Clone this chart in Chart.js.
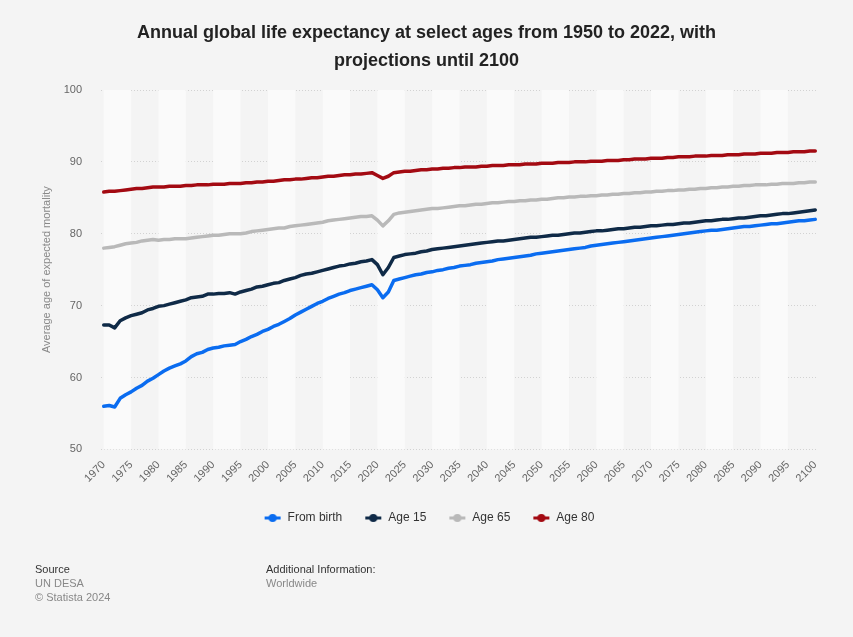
<!DOCTYPE html>
<html>
<head>
<meta charset="utf-8">
<script src="https://cdn.jsdelivr.net/npm/chart.js@4.4.1/dist/chart.umd.min.js"></script>
<style>
  html, body { margin: 0; padding: 0; background: #f4f4f4; }
  #wrap { position: relative; width: 853px; height: 637px; font-family: "Liberation Sans", Arial, sans-serif; }
  #chart { position: absolute; left: 0; top: 0; }
  .title { position: absolute; left: 0; width: 853px; text-align: center; font-weight: bold; font-size: 18px; color: #222; }
  .foot { position: absolute; font-size: 11px; line-height: 14px; }
  .dark { color: #333; }
  .grey { color: #888; }
</style>
</head>
<body>
<div id="wrap">
  <canvas id="chart" width="853" height="637"></canvas>
  <div class="title" style="top:22px">Annual global life expectancy at select ages from 1950 to 2022, with</div>
  <div class="title" style="top:50px">projections until 2100</div>
  <div class="foot" style="left:35px; top:562px">
    <div class="dark">Source</div>
    <div class="grey">UN DESA</div>
    <div class="grey">© Statista 2024</div>
  </div>
  <div class="foot" style="left:266px; top:562px">
    <div class="dark">Additional Information:</div>
    <div class="grey">Worldwide</div>
  </div>
</div>
<script>
var years = [
  '1970','1971','1972','1973','1974','1975','1976','1977','1978','1979',
  '1980','1981','1982','1983','1984','1985','1986','1987','1988','1989',
  '1990','1991','1992','1993','1994','1995','1996','1997','1998','1999',
  '2000','2001','2002','2003','2004','2005','2006','2007','2008','2009',
  '2010','2011','2012','2013','2014','2015','2016','2017','2018','2019',
  '2020','2021','2022','2023','2024','2025','2026','2027','2028','2029',
  '2030','2031','2032','2033','2034','2035','2036','2037','2038','2039',
  '2040','2041','2042','2043','2044','2045','2046','2047','2048','2049',
  '2050','2051','2052','2053','2054','2055','2056','2057','2058','2059',
  '2060','2061','2062','2063','2064','2065','2066','2067','2068','2069',
  '2070','2071','2072','2073','2074','2075','2076','2077','2078','2079',
  '2080','2081','2082','2083','2084','2085','2086','2087','2088','2089',
  '2090','2091','2092','2093','2094','2095','2096','2097','2098','2099',
  '2100'
];

var fromBirth = [
  56.0, 56.1, 55.9, 57.1, 57.6, 58.0, 58.5, 58.9, 59.5, 59.9,
  60.4, 60.9, 61.3, 61.6, 61.9, 62.3, 62.9, 63.3, 63.5, 63.9,
  64.1, 64.2, 64.4, 64.5, 64.6, 65.0, 65.3, 65.7, 66.0, 66.4,
  66.7, 67.1, 67.4, 67.8, 68.2, 68.7, 69.1, 69.5, 69.9, 70.3,
  70.6, 71.0, 71.3, 71.6, 71.8, 72.1, 72.3, 72.5, 72.7, 72.9,
  72.2, 71.1, 71.9, 73.5, 73.7, 73.9, 74.1, 74.3, 74.4, 74.6,
  74.7, 74.9, 75.0, 75.2, 75.3, 75.5, 75.6, 75.7, 75.9, 76.0,
  76.1, 76.2, 76.4, 76.5, 76.6, 76.7, 76.8, 76.9, 77.0, 77.2,
  77.3, 77.4, 77.5, 77.6, 77.7, 77.8, 77.9, 78.0, 78.1, 78.3,
  78.4, 78.5, 78.6, 78.7, 78.8, 78.9, 79.0, 79.1, 79.2, 79.3,
  79.4, 79.5, 79.6, 79.7, 79.8, 79.9, 80.0, 80.1, 80.2, 80.3,
  80.4, 80.5, 80.5, 80.6, 80.7, 80.8, 80.9, 81.0, 81.0, 81.1,
  81.2, 81.3, 81.4, 81.4, 81.5, 81.6, 81.7, 81.8, 81.8, 81.9,
  82.0
];

var age15 = [
  67.3, 67.3, 66.9, 67.9, 68.3, 68.6, 68.8, 69.0, 69.4, 69.6,
  69.9, 70.0, 70.2, 70.4, 70.6, 70.8, 71.1, 71.2, 71.3, 71.6,
  71.6, 71.7, 71.7, 71.8, 71.6, 71.9, 72.1, 72.3, 72.6, 72.7,
  72.9, 73.1, 73.2, 73.5, 73.7, 73.9, 74.2, 74.4, 74.5, 74.7,
  74.9, 75.1, 75.3, 75.5, 75.6, 75.8, 75.9, 76.1, 76.2, 76.4,
  75.7, 74.3, 75.3, 76.7, 76.9, 77.1, 77.2, 77.3, 77.5, 77.6,
  77.8, 77.9, 78.0, 78.1, 78.2, 78.3, 78.4, 78.5, 78.6, 78.7,
  78.8, 78.9, 79.0, 79.0, 79.1, 79.2, 79.3, 79.4, 79.5, 79.5,
  79.6, 79.7, 79.8, 79.8, 79.9, 80.0, 80.1, 80.1, 80.2, 80.3,
  80.4, 80.4, 80.5, 80.6, 80.7, 80.7, 80.8, 80.9, 80.9, 81.0,
  81.1, 81.1, 81.2, 81.3, 81.3, 81.4, 81.5, 81.5, 81.6, 81.7,
  81.8, 81.8, 81.9, 82.0, 82.0, 82.1, 82.2, 82.2, 82.3, 82.4,
  82.5, 82.5, 82.6, 82.7, 82.8, 82.8, 82.9, 83.0, 83.1, 83.2,
  83.3
];

var age65 = [
  78.0, 78.1, 78.2, 78.4, 78.6, 78.7, 78.8, 79.0, 79.1, 79.2,
  79.1, 79.2, 79.2, 79.3, 79.3, 79.3, 79.4, 79.5, 79.6, 79.7,
  79.8, 79.8, 79.9, 80.0, 80.0, 80.0, 80.1, 80.3, 80.4, 80.5,
  80.6, 80.7, 80.8, 80.8, 81.0, 81.1, 81.2, 81.3, 81.4, 81.5,
  81.6, 81.8, 81.9, 82.0, 82.1, 82.2, 82.3, 82.4, 82.4, 82.5,
  81.9, 81.1, 81.8, 82.7, 82.9, 83.0, 83.1, 83.2, 83.3, 83.4,
  83.5, 83.5, 83.6, 83.7, 83.8, 83.9, 83.9, 84.0, 84.1, 84.1,
  84.2, 84.3, 84.3, 84.4, 84.5, 84.5, 84.6, 84.6, 84.7, 84.7,
  84.8, 84.8, 84.9, 85.0, 85.0, 85.1, 85.1, 85.2, 85.2, 85.3,
  85.3, 85.4, 85.4, 85.5, 85.5, 85.6, 85.6, 85.7, 85.7, 85.8,
  85.8, 85.9, 85.9, 86.0, 86.0, 86.1, 86.1, 86.2, 86.2, 86.3,
  86.3, 86.4, 86.4, 86.5, 86.5, 86.6, 86.6, 86.7, 86.7, 86.8,
  86.8, 86.8, 86.9, 86.9, 87.0, 87.0, 87.0, 87.1, 87.1, 87.2,
  87.2
];

var age80 = [
  85.8, 85.9, 85.9, 86.0, 86.1, 86.2, 86.3, 86.3, 86.4, 86.5,
  86.5, 86.5, 86.6, 86.6, 86.6, 86.7, 86.7, 86.8, 86.8, 86.8,
  86.9, 86.9, 86.9, 87.0, 87.0, 87.0, 87.1, 87.1, 87.2, 87.2,
  87.3, 87.3, 87.4, 87.5, 87.5, 87.6, 87.6, 87.7, 87.8, 87.8,
  87.9, 88.0, 88.0, 88.1, 88.2, 88.2, 88.3, 88.3, 88.4, 88.5,
  88.1, 87.7, 88.0, 88.5, 88.6, 88.7, 88.7, 88.8, 88.9, 88.9,
  89.0, 89.0, 89.1, 89.1, 89.2, 89.2, 89.3, 89.3, 89.3, 89.4,
  89.4, 89.5, 89.5, 89.5, 89.6, 89.6, 89.6, 89.7, 89.7, 89.7,
  89.8, 89.8, 89.8, 89.9, 89.9, 89.9, 90.0, 90.0, 90.0, 90.1,
  90.1, 90.1, 90.2, 90.2, 90.2, 90.3, 90.3, 90.4, 90.4, 90.4,
  90.5, 90.5, 90.5, 90.6, 90.6, 90.7, 90.7, 90.7, 90.8, 90.8,
  90.8, 90.9, 90.9, 90.9, 91.0, 91.0, 91.0, 91.1, 91.1, 91.1,
  91.2, 91.2, 91.2, 91.3, 91.3, 91.3, 91.4, 91.4, 91.4, 91.5,
  91.5
];

var seriesNames = ['From birth', 'Age 15', 'Age 65', 'Age 80'];
var seriesColors = ['#0a6cf0', '#0f2a47', '#b9b9b9', '#a30a12'];

// small "line with dot" legend marker like the original
function legendMarker(color) {
  var c = document.createElement('canvas');
  c.width = 18; c.height = 10;
  var g = c.getContext('2d');
  g.strokeStyle = color;
  g.lineWidth = 3;
  g.beginPath(); g.moveTo(1, 5); g.lineTo(17, 5); g.stroke();
  g.fillStyle = color;
  g.beginPath(); g.arc(9, 5, 4, 0, Math.PI * 2); g.fill();
  return c;
}

// alternating 5-year bands behind the plot
var bandsPlugin = {
  id: 'bands',
  beforeDatasetsDraw: function (chart) {
    var ctx = chart.ctx, x = chart.scales.x, a = chart.chartArea;
    ctx.save();
    ctx.fillStyle = '#fafafa';
    for (var i = 0; i + 5 < years.length; i += 10) {
      var x1 = x.getPixelForValue(i), x2 = x.getPixelForValue(i + 5);
      ctx.fillRect(x1, a.top, x2 - x1, a.bottom - a.top);
    }
    ctx.restore();
  }
};

var allSeries = [fromBirth, age15, age65, age80];
var datasets = allSeries.map(function (d, i) {
  return {
    label: seriesNames[i],
    data: d,
    borderColor: seriesColors[i],
    backgroundColor: seriesColors[i],
    borderWidth: 3.5,
    borderCapStyle: 'round',
    borderJoinStyle: 'round',
    pointRadius: 0,
    pointStyle: legendMarker(seriesColors[i]),
    tension: 0
  };
});

Chart.defaults.font.family = '"Liberation Sans", Arial, sans-serif';

new Chart(document.getElementById('chart'), {
  type: 'line',
  data: { labels: years, datasets: datasets },
  plugins: [bandsPlugin],
  options: {
    responsive: false,
    animation: false,
    layout: { padding: { top: 90, left: 40, right: 35, bottom: 103 } },
    plugins: {
      legend: {
        position: 'bottom',
        labels: {
          usePointStyle: true,
          pointStyleWidth: 18,
          color: '#333',
          font: { size: 12 },
          padding: 22
        }
      },
      tooltip: { enabled: false }
    },
    scales: {
      x: {
        offset: true,
        grid: { display: false },
        border: { display: false },
        afterFit: function (s) { s.paddingLeft = 0; s.paddingRight = 0; s.height += 4; },
        ticks: {
          autoSkip: false,
          maxRotation: 45,
          minRotation: 45,
          color: '#666',
          font: { size: 11 },
          padding: 1,
          callback: function (v, i) {
            return i % 5 === 0 ? years[i] : null;
          }
        }
      },
      y: {
        min: 50,
        max: 100,
        afterFit: function (s) { s.width = 61; },
        grid: { color: '#d2d2d2', drawTicks: false, lineWidth: 1 },
        border: { display: false, dash: [1, 2] },
        ticks: { stepSize: 10, color: '#666', font: { size: 11 }, padding: 19 },
        title: {
          display: true,
          text: 'Average age of expected mortality',
          color: '#888',
          font: { size: 11 },
          padding: { top: 0, bottom: 10 }
        }
      }
    }
  }
});
</script>
</body>
</html>
